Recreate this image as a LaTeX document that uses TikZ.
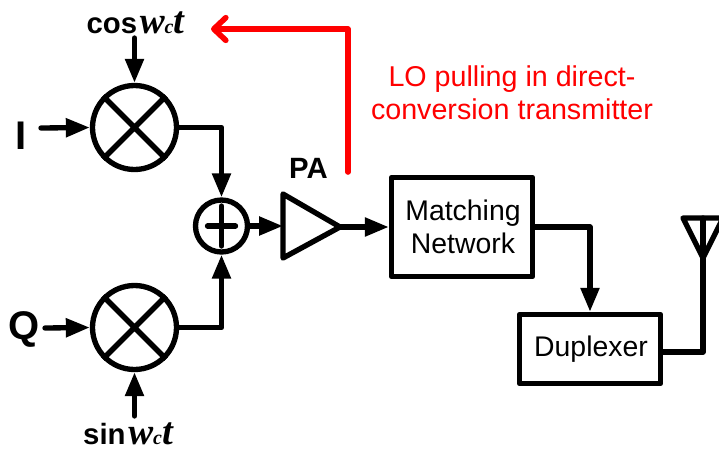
\documentclass[tikz,border=0pt]{standalone}
\usepackage{fontspec}
\usepackage{tikz}
\usetikzlibrary{arrows.meta}
\setmainfont{Liberation Sans}
\newfontfamily\wcfont{Liberation Serif}
\newcommand{\wct}{{\kern2pt\wcfont\bfseries\itshape\fontsize{28}{28}\selectfont w\fontsize{15}{15}\selectfont c\fontsize{29}{29}\selectfont t}}
\tikzset{
	wire/.style={line width=4pt, line join=round, line cap=round},
	feed/.style={wire, -{Triangle[length=18pt,width=13.5pt]}},
	mixer/.style={shape=circle, draw=black, line width=4pt, minimum size=63pt, inner sep=0pt},
	adder/.style={shape=circle, draw=black, line width=4pt, minimum size=39pt, inner sep=0pt},
	block/.style={shape=rectangle, draw=black, line width=4pt, line join=round, align=center, inner sep=0pt, font=\fontsize{21.3}{25}\selectfont},
	sig/.style={font=\bfseries\fontsize{30}{30}\selectfont},
	lo/.style={font=\bfseries\fontsize{22}{28}\selectfont, inner sep=0pt},
}
\begin{document}
\begin{tikzpicture}[x=0.75pt, y=-0.75pt]
	
	\path[use as bounding box, clip] (0, 0) rectangle (719, 455);
	
	\node[mixer] (mixi) at (134.5, 127.5) {};
	\node[mixer] (mixq) at (134.5, 327.5) {};
	\node[adder] (sum)  at (221.5, 226)   {};
	\node[block, minimum width=105.75pt, minimum height=74.25pt] (match) at (462, 227) {\kern1.5pt Matching\\\kern1.5pt Network};
	\node[block, minimum width=105.75pt, minimum height=51.75pt] (dup)   at (590, 349) {\kern1.5pt Duplexer};
	
	\node[sig] (ilabel) at (21, 136) {I};
	\node[sig] (qlabel) at (24, 329) {Q};
	\node[lo] (coslabel) at (135.5, 23)  {cos\wct};
	\node[lo] (sinlabel) at (128, 434) {sin\wct};
	\node[font=\bfseries\fontsize{22}{22}\selectfont] (palabel) at (308.5, 168) {PA};
	\node[text=red, align=center, font=\fontsize{21.5}{24.75}\selectfont] (pulllabel) at (512, 93) {LO pulling in direct-\\conversion transmitter};
	
	\coordinate (pain)   at (283, 226);
	\coordinate (patop)  at (283, 194);
	\coordinate (pabot)  at (283, 258);
	\coordinate (paout)  at (340, 227);
	\coordinate (istart) at (41, 128);
	\coordinate (qstart) at (45, 328);
	\coordinate (cstart) at (134.5, 38);
	\coordinate (sstart) at (134.5, 416);
	\coordinate (redstart) at (348, 172);
	\coordinate (redcorner) at (348, 29);
	\coordinate (redend) at (211, 29);
	\coordinate (antfeed) at (703, 352);
	\coordinate (anttip) at (703, 258);
	\coordinate (antleft) at (683, 218);
	\coordinate (antright) at (723, 218);
	
	\draw[line width=4pt] (mixi.45) -- (mixi.225) (mixi.135) -- (mixi.315);
	\draw[line width=4pt] (mixq.45) -- (mixq.225) (mixq.135) -- (mixq.315);
	\draw[wire] (sum.center) +(-14, 0) -- +(14, 0) (sum.center) +(0, -20) -- +(0, 20);
	\draw[wire] (patop) -- (paout) -- (pabot) -- cycle;
	\draw[wire] (antleft) -- (anttip) -- (antright) -- cycle;
	
	\draw[feed] (istart) -- (mixi.west);
	\draw[feed] (qstart) -- (mixq.west);
	\draw[feed] (cstart) -- (mixi.north);
	\draw[feed] (sstart) -- (mixq.south);
	\draw[feed] (mixi.east) -| (sum.north);
	\draw[feed] (mixq.east) -| (sum.south);
	\draw[feed] (sum.east) -- (pain);
	\draw[feed] (paout) -- (match.west);
	\draw[feed] (match.east) -| (dup.north);
	\draw[wire] (dup.east |- antfeed) -- (antfeed) -- (anttip) -- (703, 218);
	
	\draw[wire, red, line width=4.2pt, -{Straight Barb[length=9pt,width=17pt,round]}] (redstart) -- (redcorner) -- (redend);
	
\end{tikzpicture}
\end{document}
